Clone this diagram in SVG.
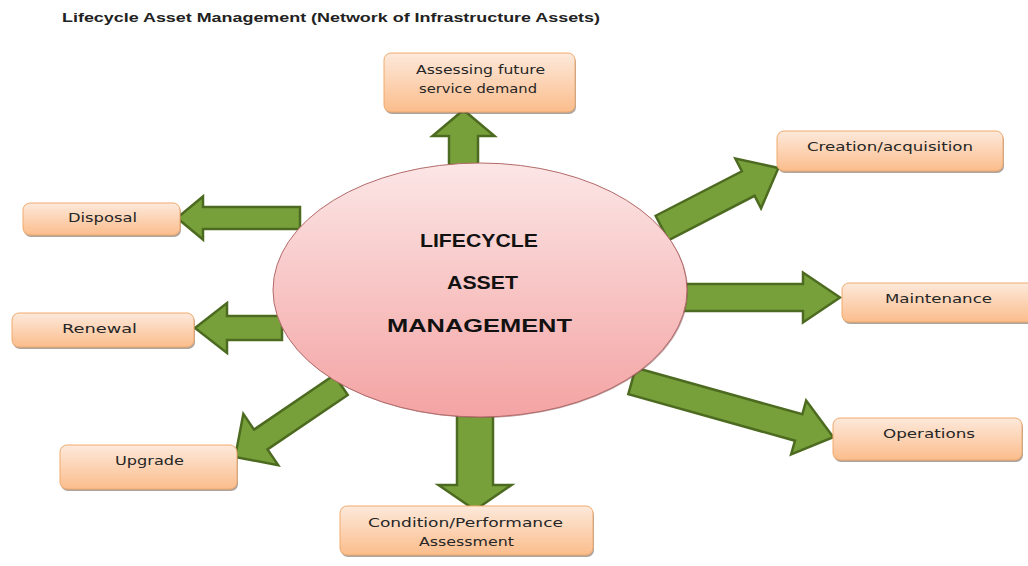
<svg xmlns="http://www.w3.org/2000/svg" width="1028" height="566" viewBox="0 0 1028 566">
<defs>
<linearGradient id="boxg" x1="0" y1="0" x2="0" y2="1">
<stop offset="0" stop-color="#fde9db"/>
<stop offset="1" stop-color="#fbbd8c"/>
</linearGradient>
<linearGradient id="circg" x1="0" y1="0" x2="0" y2="1">
<stop offset="0" stop-color="#fce6e6"/>
<stop offset="1" stop-color="#f4a3a3"/>
</linearGradient>
<style>
.box{fill:url(#boxg);stroke:#f0aa6c;stroke-width:1}
.shadow{fill:#6b5a50;opacity:0.55}
.lbl{font-family:"DejaVu Sans",Verdana,sans-serif;font-size:12.5px;fill:#262626;text-anchor:middle}
.arrow{fill:#77a03b;stroke:#4d6b20;stroke-width:2.5;stroke-linejoin:miter}
.big{font-family:"Liberation Sans",Arial,sans-serif;font-weight:bold;font-size:18px;fill:#111;text-anchor:middle}
</style>
</defs>
<rect width="1028" height="566" fill="#ffffff"/>
<text x="62" y="22" font-family="Liberation Sans, Arial, sans-serif" font-weight="bold" font-size="12" fill="#222" textLength="538" lengthAdjust="spacingAndGlyphs">Lifecycle Asset Management (Network of Infrastructure Assets)</text>
<g id="connectors">
<path class="arrow" transform="translate(463.5,165) rotate(-90)" d="M0,-14.5 L29,-14.5 L29,-31 L55,0 L29,31 L29,14.5 L0,14.5 Z"/>
<path class="arrow" transform="translate(475,412) rotate(90)" d="M0,-18 L73,-18 L73,-36.5 L98,0 L73,36.5 L73,18 L0,18 Z"/>
<path class="arrow" transform="translate(300,218) rotate(180)" d="M0,-11 L97,-11 L97,-21.5 L123,0 L97,21.5 L97,11 L0,11 Z"/>
<path class="arrow" transform="translate(282,328) rotate(180)" d="M0,-12 L55,-12 L55,-25 L87,0 L55,25 L55,12 L0,12 Z"/>
<path class="arrow" transform="translate(681,297.5)" d="M0,-13.5 L122,-13.5 L122,-25 L159,0 L122,25 L122,13.5 L0,13.5 Z"/>
<path class="arrow" transform="translate(632,381) rotate(15.6)" d="M0,-13.7 L173,-13.7 L173,-28 L209,0 L173,28 L173,13.7 L0,13.7 Z"/>
<path class="arrow" transform="translate(662,228) rotate(-27.3)" d="M0,-13.8 L97,-13.8 L97,-28 L131,0 L97,28 L97,13.8 L0,13.8 Z"/>
<path class="arrow" transform="translate(341,385) rotate(145.8)" d="M0,-12 L97,-12 L97,-31 L128,0 L97,31 L97,12 L0,12 Z"/>
</g>
<g id="center">
<ellipse cx="481" cy="291" rx="207" ry="127" fill="#7a4a4a" opacity="0.5"/>
<ellipse cx="480" cy="290" rx="207" ry="127" fill="url(#circg)" stroke="#b36a6a" stroke-width="1"/>
<text class="big" x="479" y="247" textLength="118" lengthAdjust="spacingAndGlyphs">LIFECYCLE</text>
<text class="big" x="482.5" y="289" textLength="71" lengthAdjust="spacingAndGlyphs">ASSET</text>
<text class="big" x="479.5" y="332" textLength="185" lengthAdjust="spacingAndGlyphs">MANAGEMENT</text>
</g>
<g id="assessing">
<rect class="shadow" x="385" y="55" width="191" height="59" rx="7"/>
<rect class="box" x="384" y="53" width="191" height="59" rx="7"/>
<text class="lbl" x="480.5" y="74" textLength="129" lengthAdjust="spacingAndGlyphs">Assessing future</text>
<text class="lbl" x="478" y="93" textLength="118" lengthAdjust="spacingAndGlyphs">service demand</text>
</g>
<g id="creation">
<rect class="shadow" x="778" y="133" width="226" height="40" rx="7"/>
<rect class="box" x="777" y="131" width="226" height="40" rx="7"/>
<text class="lbl" x="890" y="151" textLength="166" lengthAdjust="spacingAndGlyphs">Creation/acquisition</text>
</g>
<g id="maintenance">
<rect class="shadow" x="843" y="285" width="192" height="39" rx="7"/>
<rect class="box" x="842" y="283" width="192" height="39" rx="7"/>
<text class="lbl" x="938.5" y="303" textLength="107" lengthAdjust="spacingAndGlyphs">Maintenance</text>
</g>
<g id="operations">
<rect class="shadow" x="834" y="420" width="189" height="42" rx="7"/>
<rect class="box" x="833" y="418" width="189" height="42" rx="7"/>
<text class="lbl" x="929" y="438" textLength="92" lengthAdjust="spacingAndGlyphs">Operations</text>
</g>
<g id="condition">
<rect class="shadow" x="341" y="508" width="253" height="49" rx="7"/>
<rect class="box" x="340" y="506" width="253" height="49" rx="7"/>
<text class="lbl" x="465.5" y="527" textLength="195" lengthAdjust="spacingAndGlyphs">Condition/Performance</text>
<text class="lbl" x="466.5" y="546" textLength="95" lengthAdjust="spacingAndGlyphs">Assessment</text>
</g>
<g id="upgrade">
<rect class="shadow" x="61" y="447" width="177" height="44" rx="7"/>
<rect class="box" x="60" y="445" width="177" height="44" rx="7"/>
<text class="lbl" x="149.5" y="465" textLength="69" lengthAdjust="spacingAndGlyphs">Upgrade</text>
</g>
<g id="disposal">
<rect class="shadow" x="24" y="205" width="157" height="32" rx="7"/>
<rect class="box" x="23" y="203" width="157" height="32" rx="7"/>
<text class="lbl" x="102.5" y="222" textLength="69" lengthAdjust="spacingAndGlyphs">Disposal</text>
</g>
<g id="renewal">
<rect class="shadow" x="13" y="315" width="182" height="34" rx="7"/>
<rect class="box" x="12" y="313" width="182" height="34" rx="7"/>
<text class="lbl" x="99.5" y="333" textLength="75" lengthAdjust="spacingAndGlyphs">Renewal</text>
</g>
</svg>
